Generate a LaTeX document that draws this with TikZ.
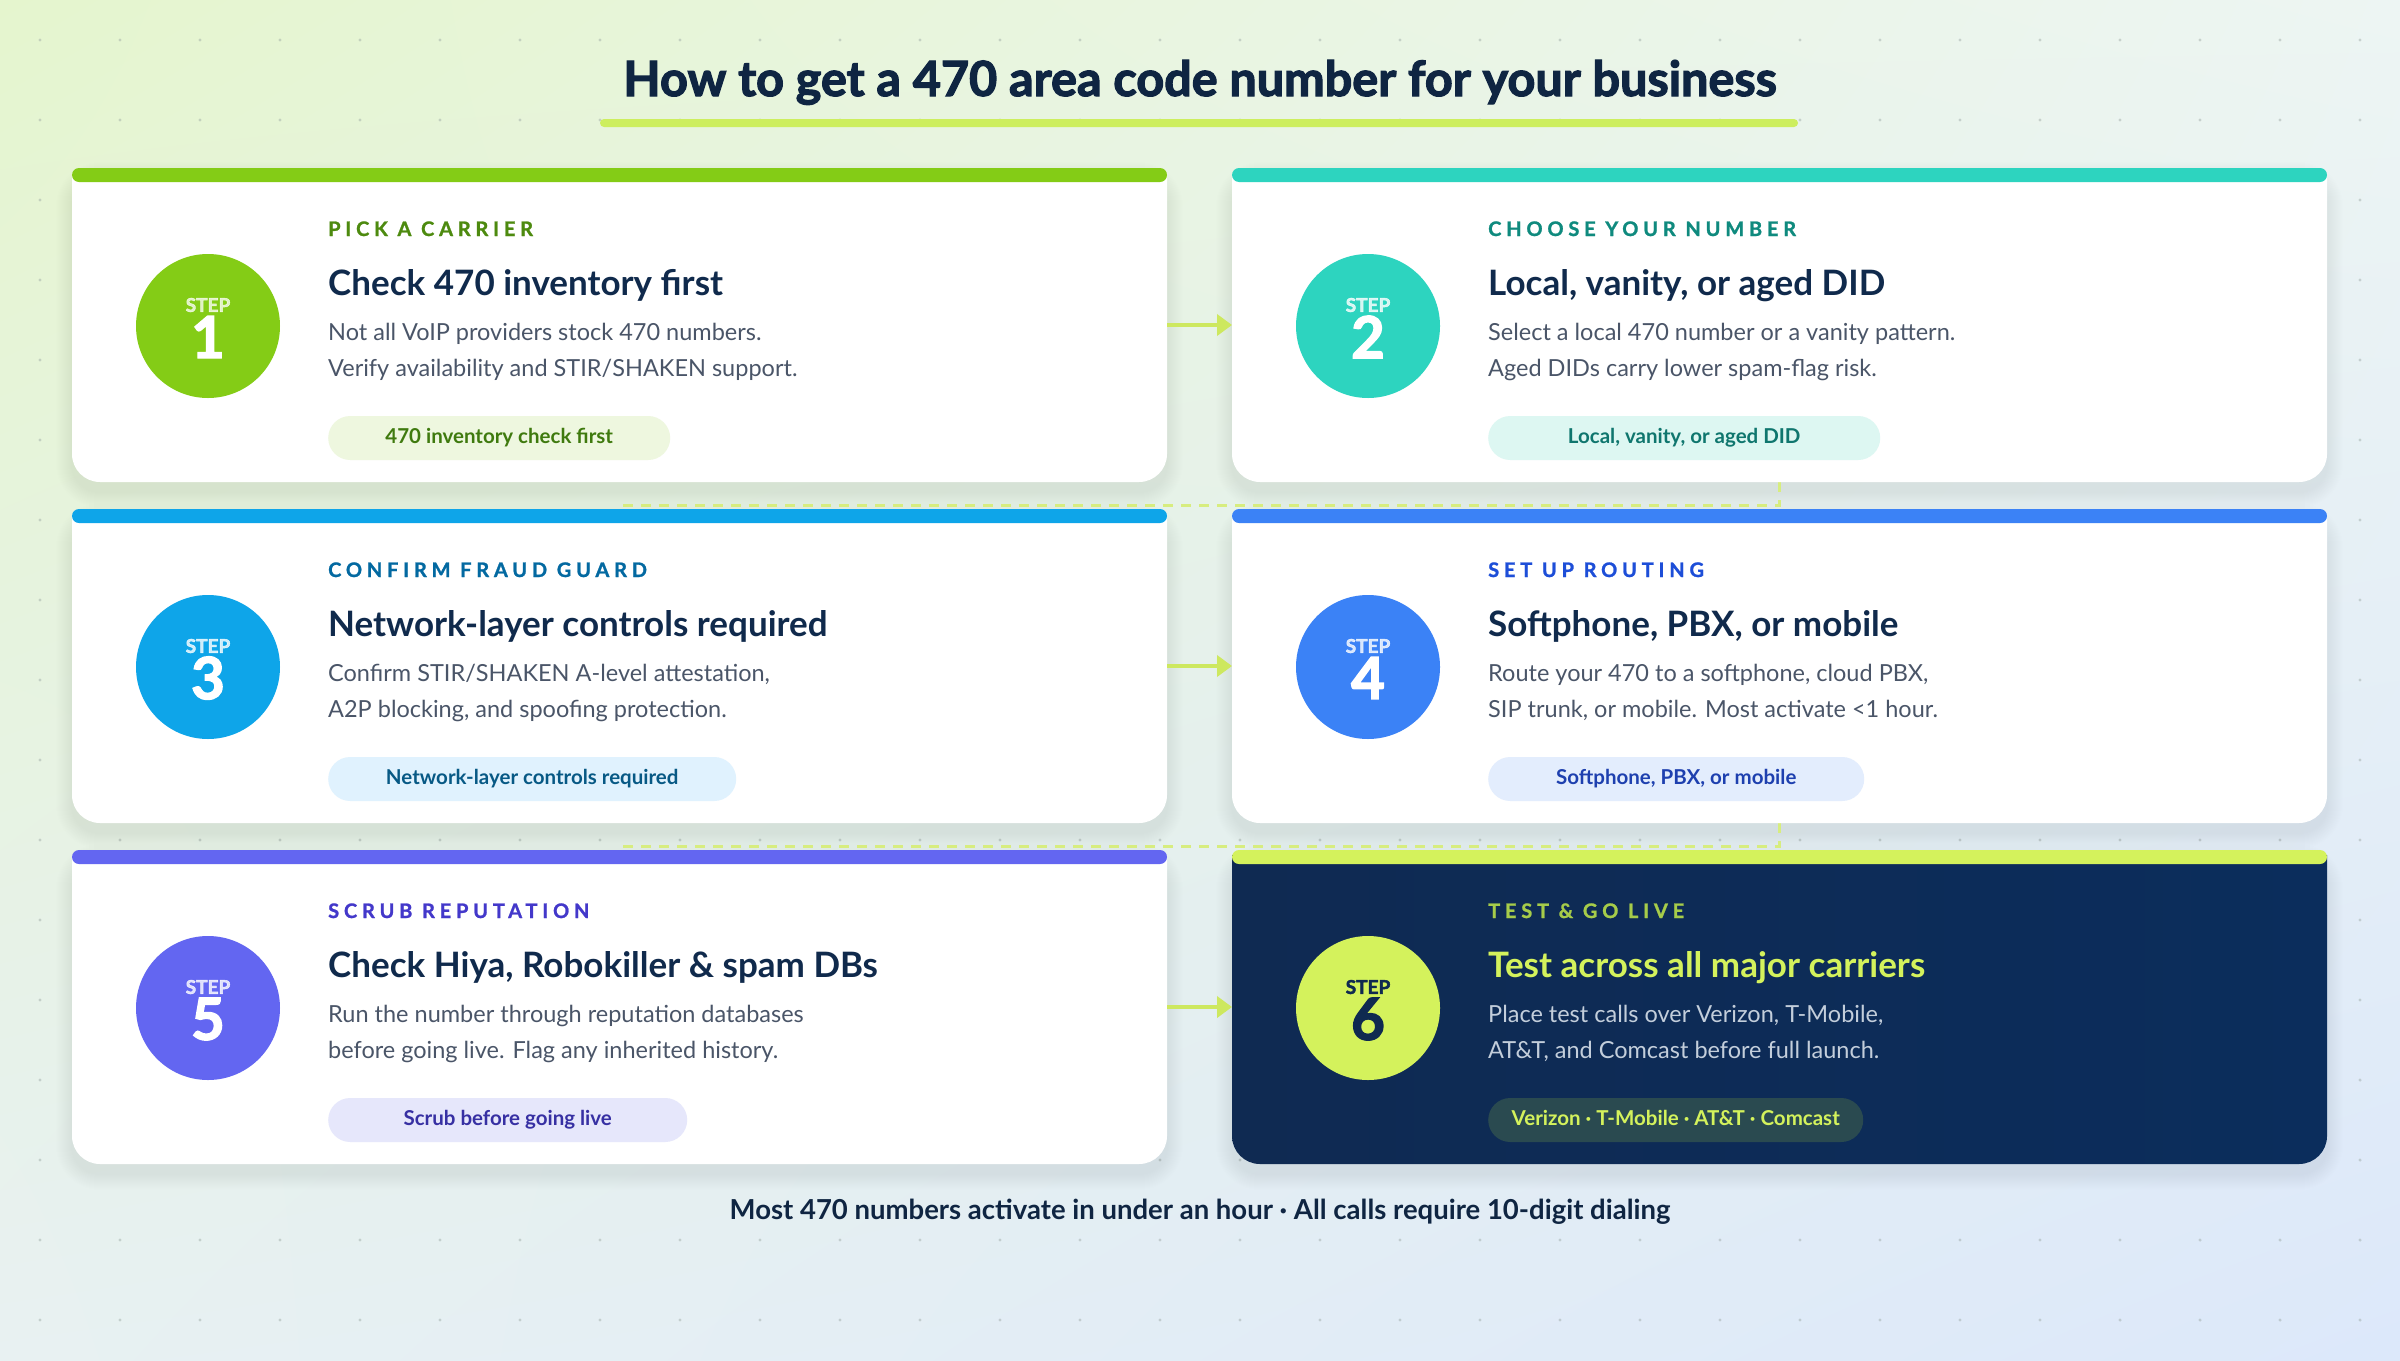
\documentclass[tikz,border=0pt]{standalone}
\usepackage{fontspec}
\setmainfont{Lato}
\newfontfamily\labelfont[LetterSpace=24,BoldFeatures={FakeBold=1.2}]{Lato}
\newfontfamily\heavyfont[BoldFeatures={FakeBold=2.5}]{Lato}
\usetikzlibrary{arrows.meta,calc,shadings}

\definecolor{bgUL}{HTML}{E5F5CE}
\definecolor{bgUR}{HTML}{EDF5F3}
\definecolor{bgLL}{HTML}{E8F1F2}
\definecolor{bgLR}{HTML}{DCE8FA}
\definecolor{dotc}{HTML}{9AA6A2}
\definecolor{navy}{HTML}{0F2542}
\definecolor{lime}{HTML}{CDEE5E}
\definecolor{flowc}{HTML}{CDE85F}
\definecolor{shadowc}{HTML}{1E3A5F}

% step 1
\definecolor{main1}{HTML}{84CC16}
\definecolor{label1}{HTML}{4D8A0F}
\definecolor{pillbg1}{HTML}{EEF7DF}
\definecolor{pilltxt1}{HTML}{3F7A0E}
\definecolor{title1}{HTML}{102A4C}
\definecolor{body1}{HTML}{4A5568}
\definecolor{steptxt1}{HTML}{FFFFFF}
% step 2
\definecolor{main2}{HTML}{2DD4BF}
\definecolor{label2}{HTML}{0F8A7E}
\definecolor{pillbg2}{HTML}{DDF7F2}
\definecolor{pilltxt2}{HTML}{0F766E}
\definecolor{title2}{HTML}{102A4C}
\definecolor{body2}{HTML}{4A5568}
\definecolor{steptxt2}{HTML}{FFFFFF}
% step 3
\definecolor{main3}{HTML}{0EA5E9}
\definecolor{label3}{HTML}{0369A1}
\definecolor{pillbg3}{HTML}{E0F2FE}
\definecolor{pilltxt3}{HTML}{075985}
\definecolor{title3}{HTML}{102A4C}
\definecolor{body3}{HTML}{4A5568}
\definecolor{steptxt3}{HTML}{FFFFFF}
% step 4
\definecolor{main4}{HTML}{3B82F6}
\definecolor{label4}{HTML}{1D4ED8}
\definecolor{pillbg4}{HTML}{E3EDFD}
\definecolor{pilltxt4}{HTML}{1E40AF}
\definecolor{title4}{HTML}{102A4C}
\definecolor{body4}{HTML}{4A5568}
\definecolor{steptxt4}{HTML}{FFFFFF}
% step 5
\definecolor{main5}{HTML}{6366F1}
\definecolor{label5}{HTML}{4338CA}
\definecolor{pillbg5}{HTML}{E6E7FB}
\definecolor{pilltxt5}{HTML}{3730A3}
\definecolor{title5}{HTML}{102A4C}
\definecolor{body5}{HTML}{4A5568}
\definecolor{steptxt5}{HTML}{FFFFFF}
% step 6
\definecolor{main6}{HTML}{D4F25C}
\definecolor{label6}{HTML}{A6CC4A}
\definecolor{pillbg6}{HTML}{2A4A50}
\definecolor{pilltxt6}{HTML}{D4F25C}
\definecolor{title6}{HTML}{D4F25C}
\definecolor{body6}{HTML}{C3CEDB}
\definecolor{steptxt6}{HTML}{0F2A50}
\definecolor{navyL}{HTML}{0F2A52}
\definecolor{navyR}{HTML}{0B2D5C}

\tikzset{
  cardnode/.style={anchor=north west, minimum width=1095pt, minimum height=314pt, inner sep=0pt, outer sep=0pt},
  cardbg1/.style={fill=white}, cardbg2/.style={fill=white}, cardbg3/.style={fill=white},
  cardbg4/.style={fill=white}, cardbg5/.style={fill=white},
  cardbg6/.style={left color=navyL, right color=navyR},
  steptag1/.style={text opacity=0.75}, steptag2/.style={text opacity=0.8}, steptag3/.style={text opacity=0.8},
  steptag4/.style={text opacity=0.8}, steptag5/.style={text opacity=0.8}, steptag6/.style={text opacity=1},
  lbl/.style={anchor=base west, inner sep=0pt, font=\labelfont\bfseries\fontsize{20}{20}\selectfont},
  ttl/.style={anchor=base west, inner sep=0pt, font=\bfseries\fontsize{35}{35}\selectfont},
  bdy/.style={anchor=base west, inner sep=0pt, font=\fontsize{23.5}{23.5}\selectfont},
  pill/.style={anchor=west, rounded corners=22pt, minimum height=44pt, inner sep=0pt,
     text height=14pt, text depth=4pt, font=\bfseries\fontsize{20.5}{20.5}\selectfont},
  dashc/.style={draw=flowc!80, line width=3pt, dash pattern=on 10pt off 8pt},
  flow/.style={draw=flowc, line width=4.5pt, -{Triangle[length=15pt,width=21pt]}},
}

\newcommand\cardcontent[7]{%
  % #1 step number, #2 label, #3 title, #4 body 1, #5 body 2, #6 pill text, #7 pill width
  \path[cardbg#1] ($(c#1.north west)+(0,10)$) [rounded corners=28pt] rectangle (c#1.south east)
        [sharp corners] ($(c#1.north west)+(0,5)$) rectangle ($(c#1.north east)+(0,60)$);
  \fill[main#1, rounded corners=7pt] (c#1.north west) rectangle ($(c#1.north east)+(0,14)$);
  \node[circle, fill=main#1, minimum size=144pt, inner sep=0pt] (s#1) at ($(c#1.north west)+(136,158)$) {};
  \node[font=\heavyfont\bfseries\fontsize{19}{19}\selectfont, text=steptxt#1, steptag#1, inner sep=0pt] (st#1) at ($(s#1.center)+(0,-21)$) {STEP};
  \node[font=\heavyfont\bfseries\fontsize{58}{58}\selectfont, text=steptxt#1, inner sep=0pt] (d#1) at ($(s#1.center)+(0,11)$) {#1};
  \node[lbl, text=label#1] (l#1) at ($(c#1.north west)+(256,68)$) {#2};
  \node[ttl, text=title#1] (t#1) at ($(c#1.north west)+(256,127)$) {#3};
  \node[bdy, text=body#1] (b#1a) at ($(c#1.north west)+(256,172)$) {#4};
  \node[bdy, text=body#1] (b#1b) at ($(c#1.north west)+(256,208)$) {#5};
  \node[pill, fill=pillbg#1, text=pilltxt#1, minimum width=#7pt] (p#1) at ($(c#1.north west)+(256,270)$) {#6};
}

\begin{document}
\begin{tikzpicture}[x=1pt,y=-1pt]
\useasboundingbox (0,0) rectangle (2400,1360);
\shade[upper left=bgUL, upper right=bgUR, lower left=bgLL, lower right=bgLR] (0,0) rectangle (2400,1360);
\foreach \i in {0,...,29}{\foreach \j in {0,...,16}{\fill[dotc, opacity=0.45] ({40+80*\i},{40+80*\j}) circle (1.7pt);}}

% title
\node[font=\heavyfont\bfseries\fontsize{48.5}{48.5}\selectfont, text=navy, anchor=base, inner sep=0pt] (title) at (1200,96) {How to get a 470 area code number for your business};
\fill[lime, rounded corners=4pt] (600,119) rectangle (1798,127);

% card frames
\node[cardnode] (c1) at (72,168) {};
\node[cardnode] (c2) at (1232,168) {};
\node[cardnode] (c3) at (72,509) {};
\node[cardnode] (c4) at (1232,509) {};
\node[cardnode] (c5) at (72,850) {};
\node[cardnode] (c6) at (1232,850) {};

% shadows
\foreach \n in {1,...,6}{
  \foreach \k in {1,...,16}{
    \pgfmathsetmacro\rr{28+\k}
    \fill[shadowc, opacity=0.005, rounded corners=\rr pt] ($(c\n.north west)+(-\k,-\k+10)$) rectangle ($(c\n.south east)+(\k,\k+10)$);
  }
}

% dashed connectors behind cards
\draw[dashc] (c2.south) -- ++(0,23) -| (c3.north);
\draw[dashc] (c4.south) -- ++(0,23) -| (c5.north);

\cardcontent{1}{PICK A CARRIER}{Check 470 inventory first}{Not all VoIP providers stock 470 numbers.}{Verify availability and STIR/SHAKEN support.}{470 inventory check first}{342}
\cardcontent{2}{CHOOSE YOUR NUMBER}{Local, vanity, or aged DID}{Select a local 470 number or a vanity pattern.}{Aged DIDs carry lower spam-flag risk.}{Local, vanity, or aged DID}{392}
\cardcontent{3}{CONFIRM FRAUD GUARD}{Network-layer controls required}{Confirm STIR/SHAKEN A-level attestation,}{A2P blocking, and spoofing protection.}{Network-layer controls required}{408}
\cardcontent{4}{SET UP ROUTING}{Softphone, PBX, or mobile}{Route your 470 to a softphone, cloud PBX,}{SIP trunk, or mobile. Most activate <1 hour.}{Softphone, PBX, or mobile}{376}
\cardcontent{5}{SCRUB REPUTATION}{Check Hiya, Robokiller \& spam DBs}{Run the number through reputation databases}{before going live. Flag any inherited history.}{Scrub before going live}{359}
\cardcontent{6}{TEST \& GO LIVE}{Test across all major carriers}{Place test calls over Verizon, T-Mobile,}{AT\&T, and Comcast before full launch.}{Verizon · T-Mobile · AT\&T · Comcast}{375}

% arrows
\draw[flow] (c1.east) -- (c2.west);
\draw[flow] (c3.east) -- (c4.west);
\draw[flow] (c5.east) -- (c6.west);

% footer
\node[font=\bfseries\fontsize{27.5}{27.5}\selectfont, text=navy, anchor=base, inner sep=0pt] (foot) at (1200,1219) {Most 470 numbers activate in under an hour · All calls require 10-digit dialing};
\end{tikzpicture}
\end{document}
